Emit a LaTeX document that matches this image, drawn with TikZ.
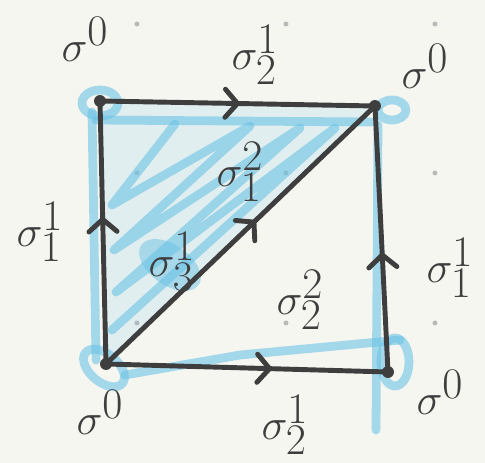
\documentclass[tikz,border=0pt]{standalone}
\usetikzlibrary{decorations.markings}
\definecolor{ink}{HTML}{3E3E3E}
\definecolor{hilite}{HTML}{6CC3E6}
\definecolor{paper}{HTML}{F6F6F1}
\newcommand{\sgm}[2]{$\sigma^{\textstyle #1}_{\textstyle #2}$}
\tikzset{
  edge/.style={ink,line width=2.8pt,line cap=round,line join=round},
  blu/.style={hilite,opacity=0.6,line width=5pt,line cap=round,line join=round},
  lbl/.style={ink,font=\fontsize{24}{26}\selectfont,inner sep=0pt},
  midarrow/.style={postaction={decorate,decoration={markings,
    mark=at position #1 with {\draw[edge] (-7pt,-8pt) -- (0,0) -- (-7pt,8pt);}}}}
}
\begin{document}
\begin{tikzpicture}[x=0.02cm,y=-0.02cm]
  \fill[paper] (0,0) rectangle (485,463);
  \useasboundingbox (0,0) rectangle (485,463);
  \foreach \x in {137,286,435}
    \foreach \y in {24,173,323}
      \fill[gray!55] (\x,\y) circle (2.5);
  % corners
  \coordinate (tl) at (100,101);
  \coordinate (tr) at (375,106);
  \coordinate (bl) at (106,364);
  \coordinate (br) at (388,372);
  % blue highlighting
  \fill[hilite,opacity=0.15] (tl) -- (tr) -- (bl) -- cycle;
  \draw[blu] (112,330) -- (335,128) -- (116,292) -- (300,128) -- (114,250)
    -- (250,126) -- (112,205) -- (175,124);
  \draw[blu] (92,112) -- (96,360);
  \draw[blu] (96,120) -- (372,122);
  \draw[blu] (378,125) -- (376,430);
  \draw[blu] (125,375) -- (240,355) -- (400,340);
  \draw[blu] (100,103) ellipse (18 and 13);
  \draw[blu] (392,110) ellipse (14 and 10);
  \draw[blu,rotate around={-40:(104,368)}] (104,368) ellipse (24 and 14);
  \draw[blu] (395,362) ellipse (14 and 24);
  \fill[hilite,opacity=0.5,rotate around={-35:(170,265)}] (170,265) ellipse (35 and 20);
  % edges
  \draw[edge,midarrow=0.5] (tl) -- (tr);
  \draw[edge,midarrow=0.58] (bl) -- (br);
  \draw[edge,midarrow=0.55] (bl) -- (tl);
  \draw[edge,midarrow=0.44] (br) -- (tr);
  \draw[edge,midarrow=0.55] (bl) -- (tr);
  \foreach \c in {tl,tr,bl,br}
    \fill[ink] (\c) circle (6);
  % labels
  \node[lbl] (v1) at (85,45) {\sgm{0}{}};
  \node[lbl] (v2) at (425,72) {\sgm{0}{}};
  \node[lbl] (v3) at (100,418) {\sgm{0}{}};
  \node[lbl] (v4) at (440,398) {\sgm{0}{}};
  \node[lbl] (e1) at (255,55) {\sgm{1}{2}};
  \node[lbl] (e2) at (285,425) {\sgm{1}{2}};
  \node[lbl] (e3) at (40,232) {\sgm{1}{1}};
  \node[lbl] (e4) at (450,268) {\sgm{1}{1}};
  \node[lbl] (e5) at (172,262) {\sgm{1}{3}};
  \node[lbl] (f1) at (240,172) {\sgm{2}{1}};
  \node[lbl] (f2) at (300,300) {\sgm{2}{2}};
\end{tikzpicture}
\end{document}
